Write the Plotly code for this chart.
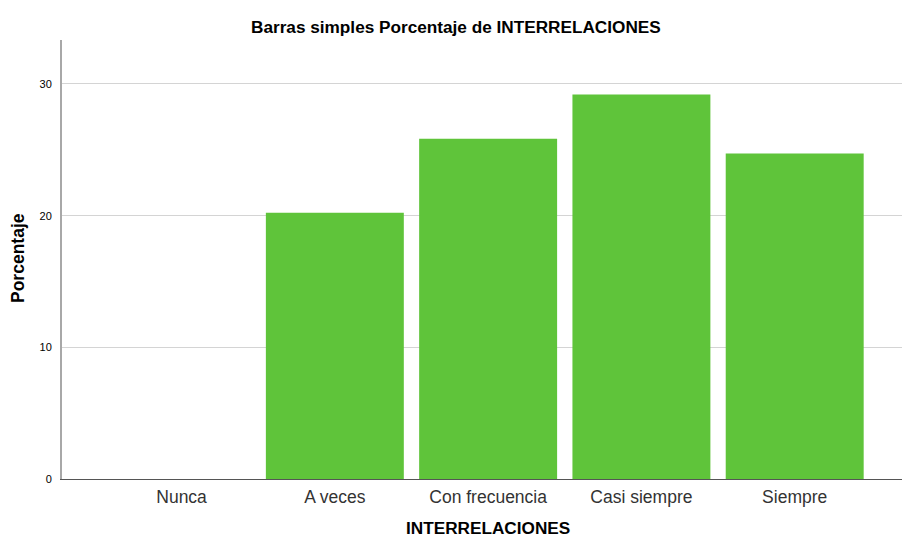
import plotly.graph_objects as go

categories = ["Nunca", "A veces", "Con frecuencia", "Casi siempre", "Siempre"]
percentages = [0.0, 20.22, 25.84, 29.21, 24.72]
y_ticks = [0, 10, 20, 30]

fig = go.Figure()
fig.add_trace(go.Bar(
    x=categories,
    y=percentages,
    marker=dict(color="#5fc43a", line=dict(width=0)),
    width=0.9,
    hoverinfo="x+y",
))

fig.update_layout(
    width=902, height=538,
    margin=dict(l=62, r=0, t=40, b=59, autoexpand=False),
    paper_bgcolor="white", plot_bgcolor="white",
    font=dict(family="Liberation Sans, Arial", color="#000"),
    showlegend=False,
    xaxis=dict(
        range=[-0.78, 4.70], automargin=False,
        showline=True, linecolor="#555", linewidth=1,
        showgrid=False, ticks="", zeroline=False,
        tickfont=dict(size=17.5, color="#333"),
        ticklabelstandoff=2,
    ),
    yaxis=dict(
        range=[0, 33.34], automargin=False,
        tickvals=y_ticks,
        showline=True, linecolor="#a8a8a8", linewidth=2,
        showgrid=True, gridcolor="#d4d4d4", gridwidth=1,
        zeroline=False, ticks="", ticklabelstandoff=6,
        tickfont=dict(size=11, color="#000"),
    ),
    annotations=[
        dict(text="<b>Barras simples Porcentaje de INTERRELACIONES</b>",
             xref="paper", yref="paper", x=(456 - 62) / 840, y=1 + (40 - 27) / 439,
             xanchor="center", yanchor="middle", showarrow=False,
             font=dict(size=17.2, color="#000")),
        dict(text="<b>INTERRELACIONES</b>",
             xref="paper", yref="paper", x=(488 - 62) / 840, y=-(528 - 479) / 439,
             xanchor="center", yanchor="middle", showarrow=False,
             font=dict(size=17.2, color="#000")),
        dict(text="<b>Porcentaje</b>", textangle=-90,
             xref="paper", yref="paper", x=-(62 - 18) / 840, y=(479 - 258) / 439,
             xanchor="center", yanchor="middle", showarrow=False,
             font=dict(size=17.5, color="#000")),
    ],
)

fig.write_html(
    "out.html",
    config={"displayModeBar": False},
    post_script="document.body.style.margin='0px';document.body.style.overflow='hidden';",
)
